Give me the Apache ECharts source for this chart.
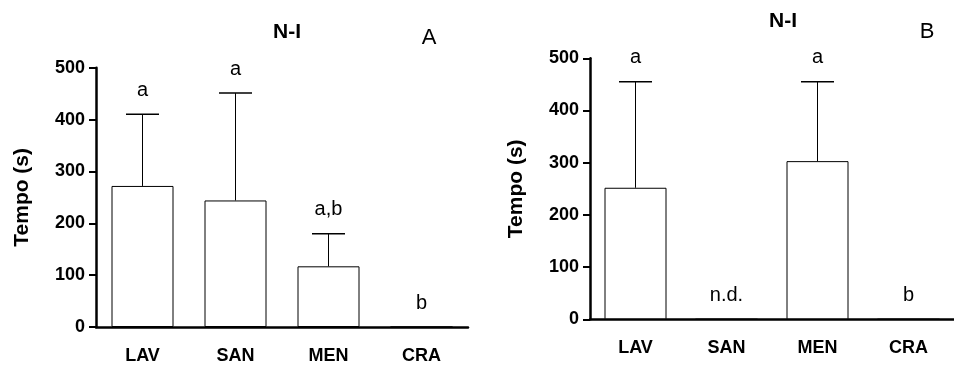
<!DOCTYPE html>
<html>
<head>
<meta charset="utf-8">
<title>N-I</title>
<script src="https://cdn.jsdelivr.net/npm/echarts@6/dist/echarts.min.js"></script>
<style>
  html, body { margin: 0; padding: 0; background: #fff; }
  #chart { width: 954px; height: 365px; }
</style>
</head>
<body>
<div id="chart"></div>
<script>
// dados
var categories = ['LAV', 'SAN', 'MEN', 'CRA'];
var yTicks = [0, 100, 200, 300, 400, 500];

var meanA = [272, 244, 117, 0];
var sdA = [138, 207, 63, 0];
var lettersA = ['a', 'a', 'a,b', 'b'];

var meanB = [252, 0, 303, 0];
var sdB = [203, 0, 152, 0];
var lettersB = ['a', 'n.d.', 'a', 'b'];

var fontBold = 'Liberation Sans';

function errData(mean, sd) {
    var out = [];
    for (var i = 0; i < categories.length; i++) {
        out.push([i, mean[i], sd[i]]);
    }
    return out;
}

// barras de erro + letras
function renderErr(params, api) {
    var i = api.value(0);
    var m = api.value(1);
    var s = api.value(2);
    var letter = params.seriesIndex === 2 ? lettersA[params.dataIndex] : lettersB[params.dataIndex];
    var base = api.coord([i, m]);
    var top = api.coord([i, m + s]);
    var children = [];
    if (s > 0) {
        children.push({
            type: 'line',
            shape: { x1: base[0], y1: base[1], x2: top[0], y2: top[1] },
            style: { stroke: '#000', lineWidth: 1 }
        });
        children.push({
            type: 'line',
            shape: { x1: top[0] - 16.5, y1: top[1], x2: top[0] + 16.5, y2: top[1] },
            style: { stroke: '#000', lineWidth: 1.5 }
        });
    }
    children.push({
        type: 'text',
        style: {
            x: top[0], y: top[1] - 24,
            text: letter,
            fill: '#000',
            font: '20px "Liberation Sans"',
            align: 'center',
            verticalAlign: 'middle'
        }
    });
    return { type: 'group', children: children };
}

function xAxisCfg(idx) {
    return {
        type: 'category',
        gridIndex: idx,
        data: categories,
        axisLine: { lineStyle: { color: '#000', width: 2.5 } },
        axisTick: { show: false },
        axisLabel: { color: '#000', fontFamily: fontBold, fontWeight: 'bold', fontSize: 18, margin: 20 }
    };
}

function yAxisCfg(idx) {
    return {
        type: 'value',
        gridIndex: idx,
        min: yTicks[0],
        max: yTicks[yTicks.length - 1],
        interval: 100,
        name: 'Tempo (s)',
        nameLocation: 'middle',
        nameRotate: 90,
        nameGap: 63,
        nameTextStyle: { color: '#000', fontFamily: fontBold, fontWeight: 'bold', fontSize: 21 },
        splitLine: { show: false },
        axisLine: { show: true, lineStyle: { color: '#000', width: 2.5 } },
        axisTick: { show: true, length: 7, lineStyle: { color: '#000', width: 2 } },
        axisLabel: { color: '#000', fontFamily: fontBold, fontWeight: 'bold', fontSize: 18, margin: 11 }
    };
}

var myChart = echarts.init(document.getElementById('chart'));
myChart.setOption({
    animation: false,
    backgroundColor: '#fff',
    title: [
        { text: 'N-I', left: 282, top: 27, textAlign: 'center', textVerticalAlign: 'middle',
          textStyle: { fontFamily: fontBold, fontWeight: 'bold', fontSize: 21, color: '#000' } },
        { text: 'A', left: 424, top: 33, textAlign: 'center', textVerticalAlign: 'middle',
          textStyle: { fontFamily: fontBold, fontWeight: 'normal', fontSize: 22, color: '#000' } },
        { text: 'N-I', left: 778, top: 16, textAlign: 'center', textVerticalAlign: 'middle',
          textStyle: { fontFamily: fontBold, fontWeight: 'bold', fontSize: 21, color: '#000' } },
        { text: 'B', left: 922, top: 27, textAlign: 'center', textVerticalAlign: 'middle',
          textStyle: { fontFamily: fontBold, fontWeight: 'normal', fontSize: 22, color: '#000' } }
    ],
    grid: [
        { left: 96, top: 67.7, width: 372, height: 260 },
        { left: 590, top: 58.3, width: 374, height: 261 }
    ],
    xAxis: [xAxisCfg(0), xAxisCfg(1)],
    yAxis: [yAxisCfg(0), yAxisCfg(1)],
    series: [
        {
            type: 'bar', xAxisIndex: 0, yAxisIndex: 0, data: meanA, barWidth: 62,
            itemStyle: { color: '#fff', borderColor: '#000', borderWidth: 1 }
        },
        {
            type: 'bar', xAxisIndex: 1, yAxisIndex: 1, data: meanB, barWidth: 62,
            itemStyle: { color: '#fff', borderColor: '#000', borderWidth: 1 }
        },
        {
            type: 'custom', xAxisIndex: 0, yAxisIndex: 0,
            data: errData(meanA, sdA), renderItem: renderErr, z: 3
        },
        {
            type: 'custom', xAxisIndex: 1, yAxisIndex: 1,
            data: errData(meanB, sdB), renderItem: renderErr, z: 3
        }
    ]
});
</script>
</body>
</html>
